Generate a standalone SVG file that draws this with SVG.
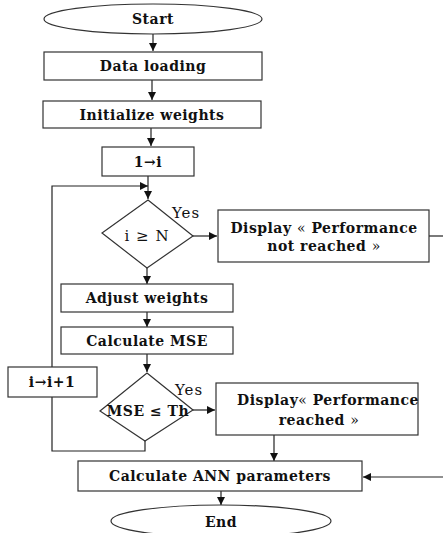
<svg xmlns="http://www.w3.org/2000/svg" width="443" height="533" viewBox="0 0 443 533">
<style>
.s{fill:#fff;stroke:#333;stroke-width:1.2}
.t{font-family:"DejaVu Serif","Liberation Serif",serif;font-weight:bold;font-size:14px;letter-spacing:0.5px;fill:#111;text-anchor:middle}
.r{font-family:"DejaVu Serif","Liberation Serif",serif;font-size:15px;fill:#111}
.c{fill:none;stroke:#222;stroke-width:1.2}
</style>
<defs>
<marker id="a" markerWidth="8" markerHeight="8" refX="8" refY="4" orient="auto" markerUnits="userSpaceOnUse">
<path d="M0,0 L8,4 L0,8 Z" fill="#111"/>
</marker>
</defs>
<rect width="443" height="533" fill="#fff"/>
<g id="connectors">
<line class="c" x1="153" y1="34" x2="153" y2="51" marker-end="url(#a)"/>
<line class="c" x1="152" y1="80" x2="152" y2="100" marker-end="url(#a)"/>
<line class="c" x1="151" y1="128" x2="151" y2="146" marker-end="url(#a)"/>
<line class="c" x1="148" y1="176" x2="148" y2="199" marker-end="url(#a)"/>
<polyline class="c" points="145,441 145,451 52,451 52,186 148,186" marker-end="url(#a)"/>
<line class="c" x1="193" y1="236" x2="217" y2="236" marker-end="url(#a)"/>
<line class="c" x1="429" y1="236" x2="443" y2="236"/>
<line class="c" x1="147" y1="268" x2="147" y2="284" marker-end="url(#a)"/>
<line class="c" x1="147" y1="312" x2="147" y2="327" marker-end="url(#a)"/>
<line class="c" x1="147" y1="354" x2="147" y2="372" marker-end="url(#a)"/>
<line class="c" x1="193" y1="410" x2="215" y2="410" marker-end="url(#a)"/>
<line class="c" x1="274" y1="435" x2="274" y2="461" marker-end="url(#a)"/>
<line class="c" x1="443" y1="477" x2="363" y2="477" marker-end="url(#a)"/>
<line class="c" x1="221" y1="491" x2="221" y2="505" marker-end="url(#a)"/>
</g>
<g id="start">
<ellipse class="s" cx="153" cy="19" rx="109" ry="15"/>
<text class="t" x="153" y="24">Start</text>
</g>
<g id="data-loading">
<rect class="s" x="44" y="52" width="218" height="28"/>
<text class="t" x="153" y="71">Data loading</text>
</g>
<g id="init-weights">
<rect class="s" x="43" y="101" width="218" height="27"/>
<text class="t" x="152" y="120">Initialize weights</text>
</g>
<g id="init-i">
<rect class="s" x="102" y="147" width="92" height="29"/>
<text class="t" x="148" y="167">1→i</text>
</g>
<g id="cond-n">
<polygon class="s" points="148,200 193,236 147,268 102,233"/>
<text class="r" x="147" y="241" text-anchor="middle" letter-spacing="1">i ≥ N</text>
<text class="r" x="172" y="218" letter-spacing="1">Yes</text>
</g>
<g id="not-reached">
<rect class="s" x="218" y="210" width="211" height="52"/>
<text class="t" x="324" y="233">Display <tspan font-weight="normal">«</tspan> Performance</text>
<text class="t" x="324" y="251">not reached <tspan font-weight="normal">»</tspan></text>
</g>
<g id="adjust">
<rect class="s" x="61" y="284" width="172" height="28"/>
<text class="t" x="147" y="303">Adjust weights</text>
</g>
<g id="mse">
<rect class="s" x="61" y="327" width="172" height="27"/>
<text class="t" x="147" y="346">Calculate MSE</text>
</g>
<g id="inc-i">
<rect class="s" x="8" y="367" width="89" height="30"/>
<text class="t" x="52" y="387" font-weight="normal">i→i+1</text>
</g>
<g id="cond-th">
<polygon class="s" points="147,373 193,410 145,441 100,411"/>
<text class="t" x="148" y="416" letter-spacing="0">MSE ≤ Th</text>
<text class="r" x="175" y="395" letter-spacing="1">Yes</text>
</g>
<g id="reached">
<rect class="s" x="216" y="383" width="202" height="52"/>
<text class="t" x="328" y="405">Display<tspan font-weight="normal">«</tspan> Performance</text>
<text class="t" x="319" y="425">reached <tspan font-weight="normal">»</tspan></text>
</g>
<g id="ann">
<rect class="s" x="78" y="461" width="284" height="30"/>
<text class="t" x="220" y="481">Calculate ANN parameters</text>
</g>
<g id="end">
<ellipse class="s" cx="221" cy="521" rx="110" ry="16"/>
<text class="t" x="221" y="527">End</text>
</g>
</svg>
